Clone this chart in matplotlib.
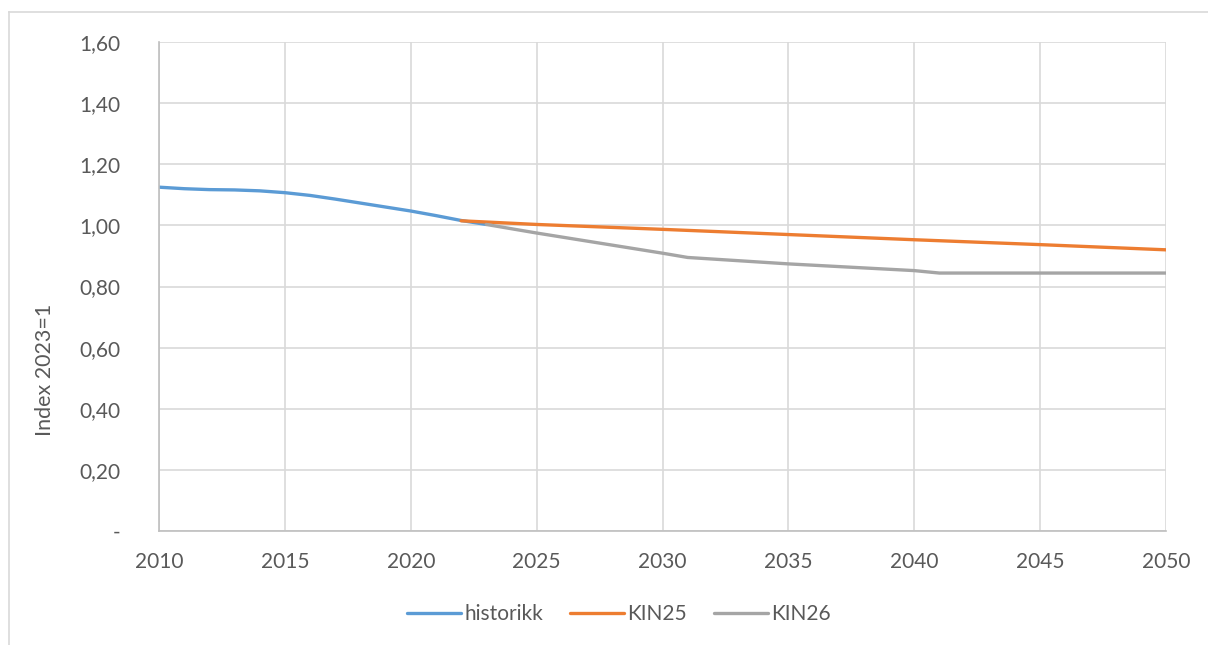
import matplotlib.pyplot as plt
from matplotlib.lines import Line2D
from matplotlib.ticker import FuncFormatter

plt.rcParams['font.family'] = ['Lato', 'DejaVu Sans']

# historical index values
hist_years = [2010, 2011, 2012, 2013, 2014, 2015, 2016, 2017, 2018, 2019, 2020, 2021, 2022, 2023]
hist_vals = [1.125, 1.120, 1.117, 1.116, 1.113, 1.107, 1.098, 1.086, 1.073, 1.060, 1.047, 1.032, 1.016, 1.003]

# KIN25 projection
kin25_years = [2022, 2025, 2030, 2035, 2040, 2045, 2050]
kin25_vals = [1.015, 1.003, 0.987, 0.970, 0.953, 0.937, 0.920]

# KIN26 projection
kin26_years = [2023, 2025, 2030, 2031, 2035, 2040, 2041, 2050]
kin26_vals = [1.003, 0.975, 0.909, 0.895, 0.874, 0.852, 0.844, 0.844]

xticks = list(range(2010, 2051, 5))
yticks = [0, 0.2, 0.4, 0.6, 0.8, 1.0, 1.2, 1.4, 1.6]

txt = '#595959'
grid = '#d9d9d9'

fig = plt.figure(figsize=(12.08, 6.45), dpi=100)
ax = fig.add_axes([159 / 1208, 1 - 531 / 645, (1166 - 159) / 1208, (531 - 42) / 645])

ax.plot(hist_years, hist_vals, color='#5b9bd5', lw=2.4, label='historikk', solid_capstyle='round')
ax.plot(kin25_years, kin25_vals, color='#ed7d31', lw=2.4, label='KIN25', solid_capstyle='round')
ax.plot(kin26_years, kin26_vals, color='#a5a5a5', lw=2.4, label='KIN26', solid_capstyle='round')

ax.set_xlim(2010, 2050)
ax.set_ylim(0, 1.6)
ax.set_xticks(xticks)
ax.set_yticks(yticks)
ax.yaxis.set_major_formatter(FuncFormatter(lambda v, p: '-' if v == 0 else f'{v:.2f}'.replace('.', ',')))
ax.grid(True, color=grid, lw=1.2)
ax.set_axisbelow(True)
for s in ['top', 'right']:
    ax.spines[s].set_visible(False)
for s in ['left', 'bottom']:
    ax.spines[s].set_color('#bfbfbf')
    ax.spines[s].set_linewidth(1.2)
ax.tick_params(length=0, labelsize=15, colors=txt)
ax.tick_params(axis='y', pad=28)
ax.tick_params(axis='x', pad=15)

ax.set_ylabel('Index 2023=1', fontsize=15.5, color=txt)
ax.yaxis.set_label_coords(-0.103, 0.33)

fig.legend(loc='center', bbox_to_anchor=(619 / 1208, 1 - 614 / 645), ncol=3, frameon=False,
           fontsize=15, labelcolor=txt, handlelength=2.6, handletextpad=0.15, columnspacing=1.3)

# outer chart frame (left and top edges)
fig.add_artist(Line2D([9 / 1208, 9 / 1208], [0, 1 - 12 / 645], transform=fig.transFigure, color=grid, lw=1.2))
fig.add_artist(Line2D([9 / 1208, 1], [1 - 12 / 645, 1 - 12 / 645], transform=fig.transFigure, color=grid, lw=1.2))

fig.savefig('out.png', dpi=100)
